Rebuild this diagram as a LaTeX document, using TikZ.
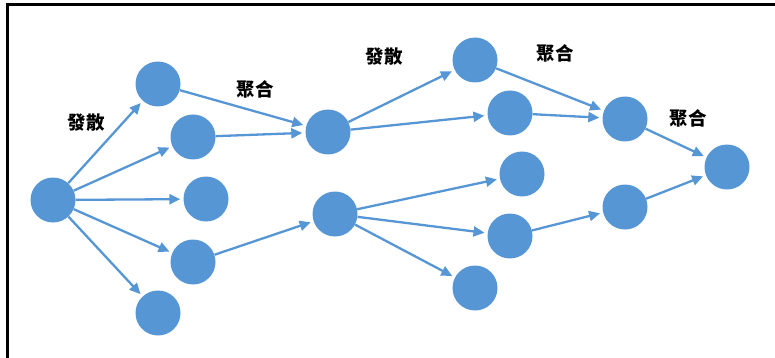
\documentclass[tikz,border=0pt]{standalone}
\usepackage{fontspec}
\newfontfamily\cjk{Noto Sans CJK TC}
\usetikzlibrary{arrows.meta}
\definecolor{dotblue}{RGB}{86,150,213}
\tikzset{
    dot/.style={circle, fill=dotblue, minimum size=45pt, inner sep=0pt},
    flow/.style={draw=dotblue, line width=2.3pt, shorten >=3pt,
        -{Triangle[length=11pt, width=10pt]}},
    tag/.style={font=\cjk\bfseries\fontsize{18.5}{18.5}\selectfont}
}
\begin{document}
\begin{tikzpicture}[x=1pt, y=-1pt]
    % Frame
    \useasboundingbox (0,0) rectangle (775,358);
    \draw[line width=3pt] (775,4.5) -- (7,4.5) -- (7,358);

    % Nodes
    \node[dot] (a) at (53,200) {};
    \node[dot] (b1) at (158,84) {};
    \node[dot] (b2) at (193,137) {};
    \node[dot] (b3) at (206,199) {};
    \node[dot] (b4) at (193,262) {};
    \node[dot] (b5) at (158,313) {};
    \node[dot] (c1) at (328,132) {};
    \node[dot] (c2) at (335,214) {};
    \node[dot] (d1) at (475,60) {};
    \node[dot] (d2) at (510,113) {};
    \node[dot] (d3) at (522,174) {};
    \node[dot] (d4) at (510,236) {};
    \node[dot] (d5) at (475,288) {};
    \node[dot] (e1) at (625,119) {};
    \node[dot] (e2) at (625,207) {};
    \node[dot] (f) at (727,167) {};

    % Arrows
    \foreach \t in {b1, b2, b3, b4, b5} {
        \draw[flow] (a) -- (\t);
    }
    \foreach \s in {b1, b2} {
        \draw[flow] (\s) -- (c1);
    }
    \draw[flow] (b4) -- (c2);
    \foreach \t in {d1, d2} {
        \draw[flow] (c1) -- (\t);
    }
    \foreach \t in {d3, d4, d5} {
        \draw[flow] (c2) -- (\t);
    }
    \foreach \s in {d1, d2} {
        \draw[flow] (\s) -- (e1);
    }
    \draw[flow] (d4) -- (e2);
    \foreach \s in {e1, e2} {
        \draw[flow] (\s) -- (f);
    }

    % Labels
    \node[tag] (split1) at (86,123) {發散};
    \node[tag] (join1) at (255,89) {聚合};
    \node[tag] (split2) at (384,57) {發散};
    \node[tag] (join2) at (555,53) {聚合};
    \node[tag] (join3) at (688,118) {聚合};
\end{tikzpicture}
\end{document}
